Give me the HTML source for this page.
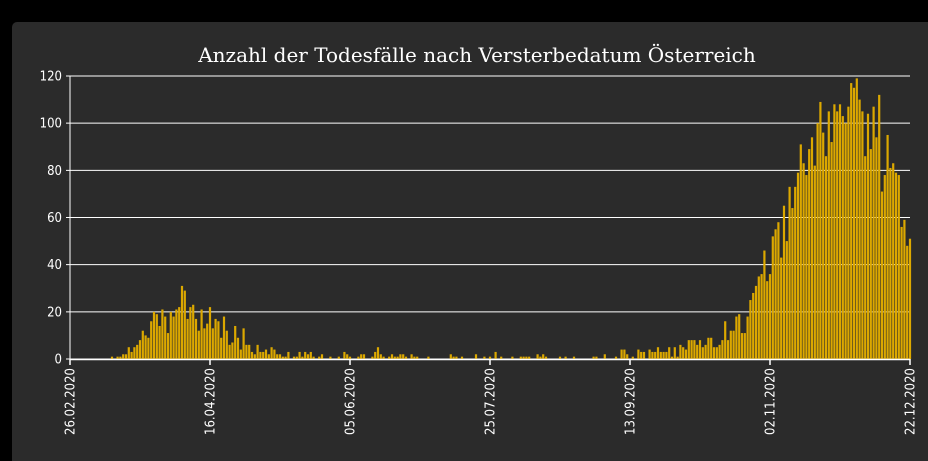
<!DOCTYPE html>
<html><head><meta charset="utf-8">
<style>
html,body{margin:0;padding:0;background:#000;width:928px;height:461px;overflow:hidden;}
svg{display:block;}
text{font-family:"DejaVu Sans Condensed","Liberation Sans Narrow","Liberation Sans",sans-serif;fill:#fff;}
</style></head><body>
<svg id="chart" width="928" height="461">
<rect x="0" y="0" width="928" height="461" fill="#000"/>
<rect x="12" y="22" width="930" height="460" rx="5" fill="#2b2b2b"/>
<text x="477" y="62" text-anchor="middle" style="font-family:'DejaVu Serif','Liberation Serif',serif;font-size:20px">Anzahl der Todesfälle nach Versterbedatum Österreich</text>
<g id="grid"></g><g id="bars"></g><g id="axes"></g>
</svg>
<script>
const values = [
0,0,0,0,0,0,0,0,0,0,
0,0,0,0,0,1,0,1,1,2,
2,5,3,5,6,8,12,10,9,16,
20,19,14,21,18,11,20,18,21,22,
31,29,17,22,23,17,12,21,13,15,
22,13,17,16,9,18,12,6,7,14,
9,4,13,6,6,3,2,6,3,3,
4,2,5,4,2,2,1,1,3,0,
1,1,3,1,3,2,3,1,0,1,
2,0,0,1,0,0,1,0,3,2,
1,0,0,1,2,2,0,0,1,3,
5,2,1,0,1,2,1,1,2,2,
1,0,2,1,1,0,0,0,1,0,
0,0,0,0,0,0,2,1,1,0,
1,0,0,0,0,2,0,0,1,0,
1,0,3,0,1,0,0,0,1,0,
0,1,1,1,1,0,0,2,1,2,
1,0,0,0,0,1,0,1,0,0,
1,0,0,0,0,0,0,1,1,0,
0,2,0,0,0,1,0,4,4,2,
0,1,0,4,3,3,0,4,3,3,
5,3,3,3,5,1,5,1,6,5,
4,8,8,8,6,8,5,6,9,9,
5,5,6,8,16,8,12,12,18,19,
11,11,18,25,28,31,35,36,46,33,
36,52,55,58,43,65,50,73,64,73,
79,91,83,78,89,94,82,100,109,96,
86,105,92,108,105,108,103,100,107,117,
115,119,110,105,86,104,89,107,94,112,
71,78,95,81,83,79,78,56,59,48,51
];
const yTicks = [0,20,40,60,80,100,120];
const xTickLabels = ["26.02.2020","16.04.2020","05.06.2020","25.07.2020","13.09.2020","02.11.2020","22.12.2020"];
const xTickDays = [0,50,100,150,200,250,300];

const NS="http://www.w3.org/2000/svg";
const X0=70,X1=910,Y0=359,Y1=76,YMAX=120,NDAYS=300;
const xs=d=>X0+(X1-X0)*d/NDAYS;
const ys=v=>Y0-(Y0-Y1)*v/YMAX;
const grid=document.getElementById('grid'),bars=document.getElementById('bars'),axes=document.getElementById('axes');
function mk(tag,attrs,parent){const e=document.createElementNS(NS,tag);for(const k in attrs)e.setAttribute(k,attrs[k]);parent.appendChild(e);return e;}
yTicks.forEach(t=>{
  const l=mk('line',{x1:X0-4,x2:X1,y1:ys(t),y2:ys(t),stroke:'#fff','stroke-width':1},grid);
  
  
  const tx=mk('text',{x:X0-8,y:ys(t)+4.5,'text-anchor':'end','font-size':'13'},axes);
  tx.textContent=t;
  
  
});
values.forEach((v,i)=>{
  if(v<=0)return;
  const r=mk('rect',{x:xs(i)-1.1,y:ys(v),width:2.2,height:Y0-ys(v),fill:'#dca800'},bars);
  
  
});
const ax=mk('line',{x1:X0,x2:X1,y1:Y0+0.5,y2:Y0+0.5,stroke:'#fff','stroke-width':1.5},axes);


const yax=mk('line',{x1:X0,x2:X0,y1:Y1,y2:Y0,stroke:'#fff','stroke-width':1},axes);


xTickDays.forEach((d,i)=>{
  const x=xs(d);
  const tk=mk('line',{x1:x,x2:x,y1:Y0,y2:Y0+6,stroke:'#fff','stroke-width':1.5},axes);
  
  
  const tx=mk('text',{x:0,y:0,'text-anchor':'end','font-size':'13',transform:'translate('+(x+4.5)+','+(Y0+9)+') rotate(-90)'},axes);
  tx.textContent=xTickLabels[i];
  
  
});
</script>
</body></html>
